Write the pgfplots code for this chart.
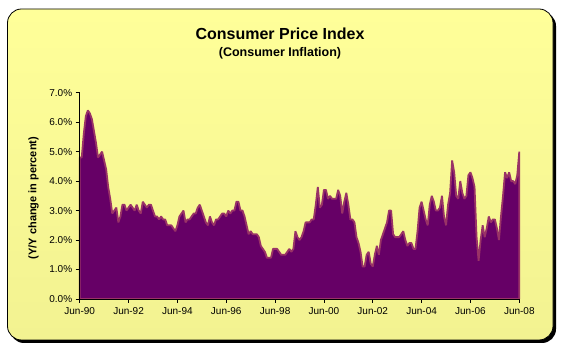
\documentclass[border=0pt]{standalone}
\usepackage{pgfplots}
\pgfplotsset{compat=1.18}
\usepackage{fontspec}
\setmainfont{Liberation Sans}
\definecolor{areafill}{HTML}{660066}
\definecolor{arealine}{HTML}{993366}
\definecolor{bgtop}{HTML}{FFFF99}
\definecolor{bgbot}{HTML}{F2F291}
\pgfplotstableread{
m v
0 4.8
1 4.8
2 5.6
3 6.2
4 6.4
5 6.3
6 6.1
7 5.7
8 5.3
9 4.8
10 4.9
11 5.0
12 4.7
13 4.4
14 3.8
15 3.4
16 2.9
17 3.0
18 3.1
19 2.6
20 2.8
21 3.2
22 3.2
23 3.0
24 3.1
25 3.2
26 3.1
27 3.0
28 3.2
29 3.0
30 2.9
31 3.3
32 3.2
33 3.1
34 3.2
35 3.2
36 3.0
37 2.8
38 2.8
39 2.7
40 2.8
41 2.7
42 2.7
43 2.5
44 2.5
45 2.5
46 2.4
47 2.3
48 2.5
49 2.8
50 2.9
51 3.0
52 2.6
53 2.7
54 2.7
55 2.8
56 2.9
57 2.9
58 3.1
59 3.2
60 3.0
61 2.8
62 2.6
63 2.5
64 2.8
65 2.6
66 2.5
67 2.7
68 2.7
69 2.8
70 2.9
71 2.9
72 2.8
73 3.0
74 2.9
75 3.0
76 3.0
77 3.3
78 3.3
79 3.0
80 3.0
81 2.8
82 2.5
83 2.2
84 2.3
85 2.2
86 2.2
87 2.2
88 2.1
89 1.8
90 1.7
91 1.6
92 1.4
93 1.4
94 1.4
95 1.7
96 1.7
97 1.7
98 1.6
99 1.5
100 1.5
101 1.5
102 1.6
103 1.7
104 1.6
105 1.7
106 2.3
107 2.1
108 2.0
109 2.1
110 2.3
111 2.6
112 2.6
113 2.6
114 2.7
115 2.7
116 3.2
117 3.8
118 3.1
119 3.2
120 3.7
121 3.7
122 3.4
123 3.5
124 3.4
125 3.4
126 3.4
127 3.7
128 3.5
129 2.9
130 3.3
131 3.6
132 3.2
133 2.7
134 2.7
135 2.6
136 2.1
137 1.9
138 1.6
139 1.1
140 1.1
141 1.5
142 1.6
143 1.2
144 1.1
145 1.5
146 1.8
147 1.5
148 2.0
149 2.2
150 2.4
151 2.6
152 3.0
153 3.0
154 2.2
155 2.1
156 2.1
157 2.1
158 2.2
159 2.3
160 2.0
161 1.8
162 1.9
163 1.9
164 1.7
165 1.7
166 2.3
167 3.1
168 3.3
169 3.0
170 2.7
171 2.5
172 3.2
173 3.5
174 3.3
175 3.0
176 3.0
177 3.1
178 3.5
179 2.8
180 2.5
181 3.2
182 3.6
183 4.7
184 4.3
185 3.5
186 3.4
187 4.0
188 3.6
189 3.4
190 3.5
191 4.2
192 4.3
193 4.1
194 3.8
195 2.1
196 1.3
197 2.0
198 2.5
199 2.1
200 2.4
201 2.8
202 2.6
203 2.7
204 2.7
205 2.4
206 2.0
207 2.8
208 3.5
209 4.3
210 4.1
211 4.3
212 4.0
213 4.0
214 3.9
215 4.2
216 5.0
}\cpidata
\begin{document}
\begin{tikzpicture}
\path[use as bounding box] (0pt,0pt) rectangle (563pt,351pt);
\fill[black, rounded corners=14pt] (10pt,8pt) rectangle (556pt,339pt);
\shade[top color=bgtop, bottom color=bgbot, rounded corners=14pt, draw=black, line width=0.8pt] (7.5pt,11pt) rectangle (553pt,342pt);
\node[font=\bfseries\fontsize{16}{18}\selectfont] at (280pt,317pt) {Consumer Price Index};
\node[font=\bfseries\fontsize{12.5}{14}\selectfont] at (280pt,298pt) {(Consumer Inflation)};
\node[font=\bfseries\fontsize{11}{13}\selectfont, rotate=90] at (33.5pt,153pt) {(Y/Y change in percent)};
\begin{axis}[
  at={(79.7pt,52pt)}, anchor=south west,
  scale only axis, width=439.6pt, height=206.3pt,
  xmin=0, xmax=216, ymin=0, ymax=7,
  axis lines*=left,
  axis line style={black, line width=0.8pt},
  tick style={black, line width=0.8pt},
  tick align=outside, major tick length=4pt,
  xtick={0,24,...,216},
  xticklabels={Jun-90,Jun-92,Jun-94,Jun-96,Jun-98,Jun-00,Jun-02,Jun-04,Jun-06,Jun-08},
  ytick={0,1,...,7},
  yticklabels={0.0\%,1.0\%,2.0\%,3.0\%,4.0\%,5.0\%,6.0\%,7.0\%},
  tick label style={font=\fontsize{10}{12}\selectfont},
  xticklabel style={yshift=-1pt},
  clip=false,
  axis on top,
]
\addplot[fill=areafill, draw=arealine, line width=1.8pt, line join=bevel] table[x=m, y=v] {\cpidata} \closedcycle;
\end{axis}
\end{tikzpicture}
\end{document}
